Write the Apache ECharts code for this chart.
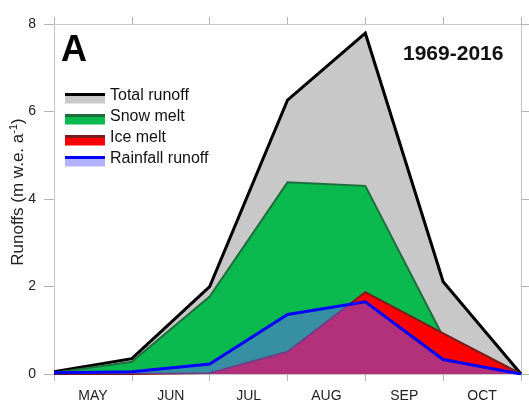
<!DOCTYPE html>
<html>
<head>
<meta charset="utf-8">
<script src="https://cdn.jsdelivr.net/npm/echarts@6/dist/echarts.min.js"></script>
<style>html,body{margin:0;padding:0;background:#fff}#c{width:529px;height:401px}</style>
</head>
<body>
<div id="c"></div>
<script>
var months = ['MAY', 'JUN', 'JUL', 'AUG', 'SEP', 'OCT'];
var points = ['p0', 'p1', 'p2', 'p3', 'p4', 'p5', 'p6'];
var yTicks = [0, 2, 4, 6, 8];
var totalRunoff = [0.05, 0.35, 2.0, 6.26, 7.79, 2.11, 0.0];
var snowMelt    = [0.03, 0.28, 1.77, 4.38, 4.30, 0.85, 0.0];
var iceMelt     = [0.0, 0.0, 0.02, 0.51, 1.87, 0.93, 0.0];
var rainRunoff  = [0.03, 0.05, 0.23, 1.36, 1.65, 0.33, 0.0];
var legendNames = ['Total runoff', 'Snow melt', 'Ice melt', 'Rainfall runoff'];

var font = '"Liberation Sans", Arial, sans-serif';
var chart = echarts.init(document.getElementById('c'));

var legendStyles = [
  {line: '#000000', fill: '#c8c8c8'},
  {line: '#1e6e3c', fill: '#0bba4f'},
  {line: '#7a1c1c', fill: '#ff0000'},
  {line: '#0000ff', fill: 'rgba(100,98,250,0.49)'}
];
var legendGraphics = [];
legendNames.forEach(function (n, i) {
  var y = 94.5 + i * 21;
  legendGraphics.push({type: 'rect', shape: {x: 65, y: y + 1, width: 40, height: 8}, style: {fill: legendStyles[i].fill}});
  legendGraphics.push({type: 'line', shape: {x1: 65, y1: y, x2: 105, y2: y}, style: {stroke: legendStyles[i].line, lineWidth: 3}});
  legendGraphics.push({type: 'text', x: 110, y: y + 1.5, style: {text: n, font: '16px ' + font, fill: '#111', textVerticalAlign: 'middle'}});
});

var axisGrey = '#c8c8c8';
var tickGrey = '#b4b4b4';

function areaSeries(name, data, lineColor, lineWidth, fill, z) {
  return {
    name: name, type: 'line', xAxisIndex: 0, data: data,
    symbol: 'none', smooth: false, z: z,
    lineStyle: {color: lineColor, width: lineWidth, join: 'miter'},
    areaStyle: {color: fill, opacity: 1, origin: 'start'},
    itemStyle: {color: lineColor}
  };
}

chart.setOption({
  animation: false,
  backgroundColor: '#fff',
  grid: {left: 54, right: 8, top: 24, bottom: 27, containLabel: false, outerBoundsMode: 'none'},
  xAxis: [
    {type: 'category', data: points, boundaryGap: false, show: false},
    {type: 'category', data: months, boundaryGap: true, position: 'bottom',
     axisLine: {lineStyle: {color: axisGrey, width: 1}},
     axisTick: {show: true, length: 7, lineStyle: {color: tickGrey}},
     axisLabel: {color: '#222', fontSize: 14, fontFamily: font, margin: 15},
     splitLine: {show: false}},
    {type: 'category', data: months, boundaryGap: true, position: 'top',
     axisLine: {lineStyle: {color: axisGrey, width: 1}},
     axisTick: {show: true, length: 7, lineStyle: {color: tickGrey}},
     axisLabel: {show: false}, splitLine: {show: false}}
  ],
  yAxis: [
    {type: 'value', min: yTicks[0], max: yTicks[yTicks.length - 1], interval: 2, position: 'left',
     axisLine: {show: true, lineStyle: {color: axisGrey, width: 1}},
     axisTick: {show: true, length: 10, lineStyle: {color: tickGrey}},
     axisLabel: {color: '#222', fontSize: 14, fontFamily: font, margin: 18},
     splitLine: {show: false}},
    {type: 'value', min: yTicks[0], max: yTicks[yTicks.length - 1], interval: 2, position: 'right',
     axisLine: {show: true, lineStyle: {color: axisGrey, width: 1}},
     axisTick: {show: true, length: 8, lineStyle: {color: tickGrey}},
     axisLabel: {show: false}, splitLine: {show: false}}
  ],
  series: [
    areaSeries(legendNames[0], totalRunoff, '#000000', 3, '#c8c8c8', 2),
    areaSeries(legendNames[1], snowMelt, '#1e6e3c', 2, '#0bba4f', 3),
    areaSeries(legendNames[2], iceMelt, '#7a1c1c', 2, '#ff0000', 4),
    areaSeries(legendNames[3], rainRunoff, '#0000ff', 3, 'rgba(100,98,250,0.49)', 5)
  ],
  graphic: [
    {type: 'text', left: 61, top: 33, style: {text: 'A', font: 'bold 36px ' + font, fill: '#000'}},
    {type: 'text', left: 403, top: 44, style: {text: '1969-2016', font: 'bold 21px ' + font, fill: '#111'}},
    {type: 'text', x: 18, y: 192, rotation: Math.PI / 2,
     style: {text: 'Runoffs (m w.e. a{sup|-1})', font: '17px ' + font, fill: '#222',
       align: 'center', verticalAlign: 'middle',
       rich: {sup: {font: '11px ' + font, fill: '#222', padding: [0, 0, 9, 0]}}}}
  ].concat(legendGraphics)
});
</script>
</body>
</html>
